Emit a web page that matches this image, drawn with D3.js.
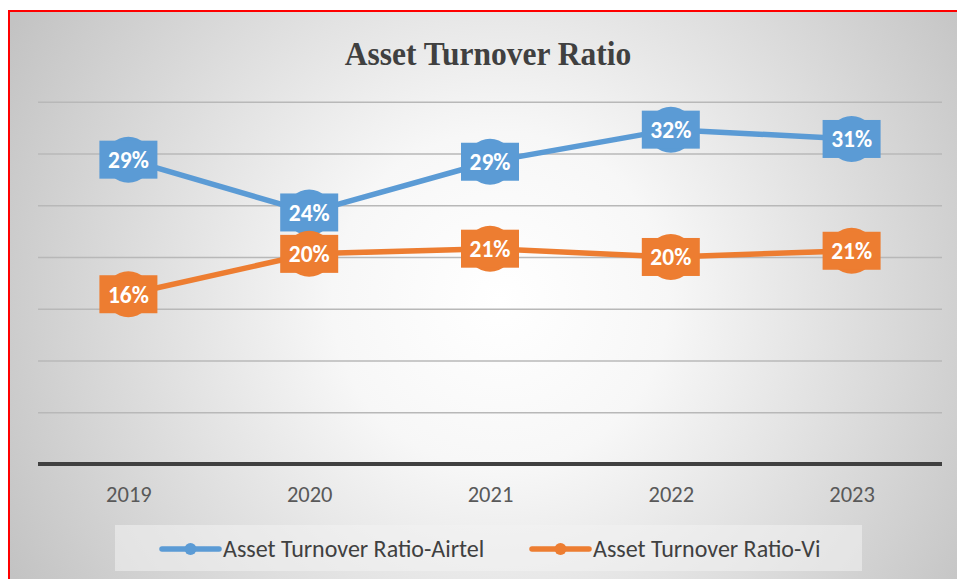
<!DOCTYPE html>
<html>
<head>
<meta charset="utf-8">
<script src="https://cdn.jsdelivr.net/npm/d3@7"></script>
<style>
  html, body { margin: 0; padding: 0; background: #fff; }
  svg { display: block; }
</style>
</head>
<body>
<svg id="chart" width="957" height="579"></svg>
<script>
// chart data
const years = ["2019", "2020", "2021", "2022", "2023"];
const airtel = [29.4, 24.3, 29.2, 32.3, 31.4];
const vi = [16.4, 20.3, 20.8, 20.0, 20.6];
const seriesNames = ["Asset Turnover Ratio-Airtel", "Asset Turnover Ratio-Vi"];
const yTicks = [0, 5, 10, 15, 20, 25, 30, 35];

const W = 957, H = 579;
const plot = { left: 38, right: 942, top: 101.7, bottom: 464 };
const colors = ["#5b9bd5", "#ed7d31"];
const labelFont = "Carlito, Lato, 'Open Sans', sans-serif";

const svg = d3.select("#chart");

// background: white margin, radial grey gradient inside a red frame
const defs = svg.append("defs");
const grad = defs.append("radialGradient")
    .attr("id", "bg")
    .attr("gradientUnits", "userSpaceOnUse")
    .attr("cx", 500).attr("cy", 300).attr("r", 560);
grad.append("stop").attr("offset", 0).attr("stop-color", "#ffffff");
grad.append("stop").attr("offset", 0.3).attr("stop-color", "#f7f7f7");
grad.append("stop").attr("offset", 1).attr("stop-color", "#c3c3c3");

svg.append("rect")
    .attr("x", 9).attr("y", 11)
    .attr("width", W + 20).attr("height", H + 20)
    .attr("fill", "url(#bg)")
    .attr("stroke", "#ff0000")
    .attr("stroke-width", 2);

// title
svg.append("text")
    .attr("x", 488).attr("y", 0)
    .attr("transform", "translate(0,65) scale(1,1.1)")
    .attr("text-anchor", "middle")
    .attr("font-family", "'Liberation Serif', 'Times New Roman', serif")
    .attr("font-weight", "bold")
    .attr("font-size", "31.5px")
    .attr("fill", "#404040")
    .text("Asset Turnover Ratio");

// scales
const x = d3.scalePoint()
    .domain(years)
    .range([plot.left, plot.right])
    .padding(0.5);

const y = d3.scaleLinear()
    .domain([0, 35])
    .range([plot.bottom, plot.top]);

// horizontal gridlines
const grid = svg.append("g")
    .attr("transform", `translate(${plot.left},0)`)
    .call(d3.axisLeft(y).tickValues(yTicks.slice(1)).tickSize(-(plot.right - plot.left)).tickFormat(""));
grid.select(".domain").remove();
grid.selectAll(".tick line")
    .attr("stroke", "#b8b8b8")
    .attr("stroke-width", 1.5);

// x axis, thick dark baseline, no ticks
const xAxis = svg.append("g")
    .attr("transform", `translate(0,${plot.bottom})`)
    .call(d3.axisBottom(x).tickSize(0).tickPadding(22));
xAxis.select(".domain")
    .attr("d", `M${plot.left},0H${plot.right}`)
    .attr("stroke", "#404040")
    .attr("stroke-width", 4);
xAxis.selectAll(".tick text")
    .attr("font-family", labelFont)
    .attr("font-size", "22.5px")
    .attr("fill", "#595959");

// lines, markers and value labels
const series = [airtel, vi];
const line = d3.line()
    .x((d, i) => x(years[i]))
    .y(d => y(d));

series.forEach((vals, s) => {
    svg.append("path")
        .datum(vals)
        .attr("d", line)
        .attr("fill", "none")
        .attr("stroke", colors[s])
        .attr("stroke-width", 5.5)
        .attr("stroke-linejoin", "round");
});

series.forEach((vals, s) => {
    const g = svg.append("g");
    const pts = g.selectAll("g.pt")
        .data(vals)
        .join("g")
        .attr("class", "pt")
        .attr("transform", (d, i) => `translate(${x(years[i])},${y(d)})`);

    pts.append("circle")
        .attr("r", 23)
        .attr("fill", colors[s]);

    pts.append("rect")
        .attr("x", -29).attr("y", -19)
        .attr("width", 58).attr("height", 38)
        .attr("fill", colors[s]);

    pts.append("text")
        .attr("text-anchor", "middle")
        .attr("dy", "0.36em")
        .attr("font-family", labelFont)
        .attr("font-weight", "bold")
        .attr("font-size", "23.5px")
        .attr("fill", "#ffffff")
        .text(d => Math.round(d) + "%");
});

// legend
const legend = svg.append("g");
legend.append("rect")
    .attr("x", 115).attr("y", 525)
    .attr("width", 747).attr("height", 46)
    .attr("fill", "#f2f2f2")
    .attr("fill-opacity", 0.55);

const legendX = [162, 532];
seriesNames.forEach((name, s) => {
    const lg = legend.append("g").attr("transform", `translate(${legendX[s]},549)`);
    lg.append("line")
        .attr("x1", 0).attr("x2", 57)
        .attr("stroke", colors[s])
        .attr("stroke-width", 5.5)
        .attr("stroke-linecap", "round");
    lg.append("circle")
        .attr("cx", 28.5).attr("r", 6)
        .attr("fill", colors[s]);
    lg.append("text")
        .attr("x", 61)
        .attr("dy", "0.35em")
        .attr("font-family", labelFont)
        .attr("font-size", "24px")
        .attr("fill", "#404040")
        .text(name);
});
</script>
</body>
</html>
